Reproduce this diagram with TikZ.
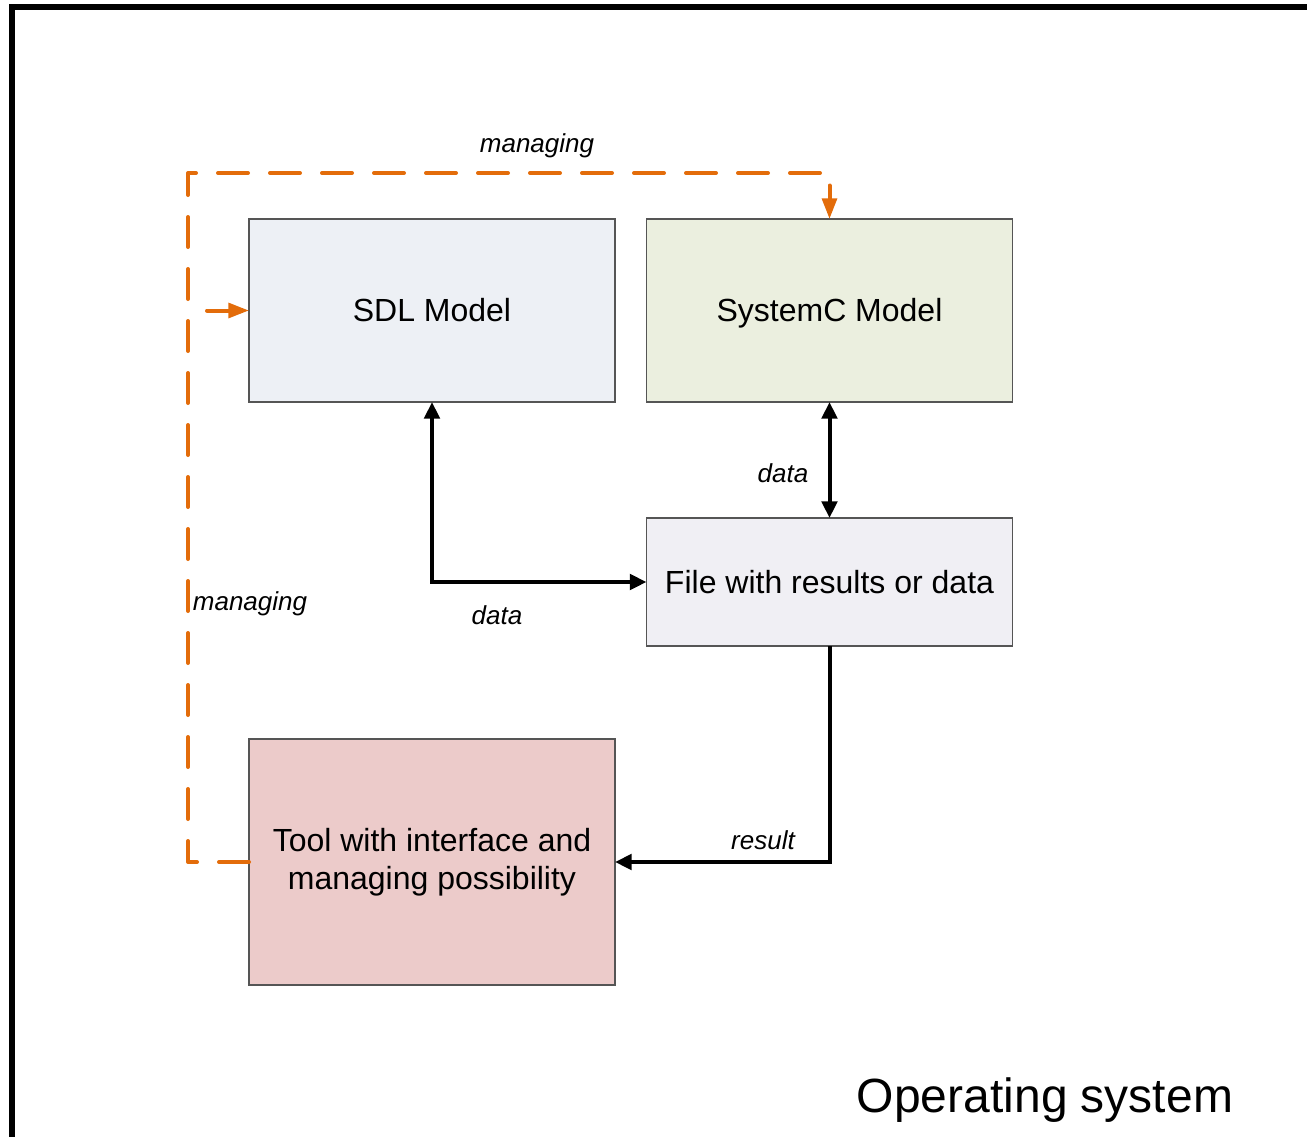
\documentclass[tikz,border=0pt]{standalone}
\usepackage{fontspec}
\setmainfont{Liberation Sans}
\usetikzlibrary{arrows.meta}
\definecolor{orng}{HTML}{E36C0A}
\definecolor{sdlfill}{HTML}{EDF0F5}
\definecolor{syscfill}{HTML}{EBEFDF}
\definecolor{filefill}{HTML}{F0EFF4}
\definecolor{toolfill}{HTML}{ECCBCA}
\definecolor{bordergray}{HTML}{555555}
\begin{document}
\begin{tikzpicture}[x=0.75pt,y=-0.75pt,
  box/.style={draw=bordergray, line width=0.8pt, inner sep=0pt, outer sep=0pt,
    font=\fontsize{24}{28.5}\selectfont, align=center},
  oneline/.style={text height=19.5pt, text depth=2.5pt},
  blk/.style={line width=3pt, draw=black, line join=miter,
    arrows={-Triangle[length=12.5pt,width=11.5pt]}},
  blk2/.style={line width=3pt, draw=black, line join=miter,
    arrows={Triangle[length=12.5pt,width=11.5pt]-Triangle[length=12.5pt,width=11.5pt]}},
  orngline/.style={line width=3pt, draw=orng, line cap=round, line join=round,
    dash pattern=on 22.5pt off 16.5pt},
  orngtip/.style={-{Triangle[length=15.5pt,width=11pt]}, orng, line width=3pt, line cap=round},
  lbl/.style={font=\fontsize{19.5}{22}\selectfont\itshape, inner sep=0pt}
]
\useasboundingbox (0,0) rectangle (1307,1136);
% frame
\draw[line width=4.5pt] (12,1150) -- (12,7) -- (1320,7);

% boxes
\node[box, oneline, fill=sdlfill, minimum width=274.5pt, minimum height=137.25pt] (sdl) at (432,310.5) {SDL Model};
\node[box, oneline, fill=syscfill, minimum width=274.5pt, minimum height=137.25pt] (sysc) at (829.5,310.5) {SystemC Model};
\node[box, oneline, fill=filefill, minimum width=274.5pt, minimum height=96pt] (file) at (829.5,582) {File with results or data};
\node[box, fill=toolfill, minimum width=274.5pt, minimum height=184.5pt] (tool) at (432,862) {Tool with interface and\\managing possibility};

% black connectors
\draw[blk2] (sdl.south) |- (file.west);
\draw[blk2] (sysc.south) -- (file.north);
\draw[blk] (file.south) |- (tool.east);

% orange managing lines
\coordinate (c1) at (188,173);
\coordinate (c2) at (207,310.5);
\draw[orngline] (tool.west) -| (c1) -| ([yshift=15pt]sysc.north);
\draw[orngtip] ([yshift=15pt]sysc.north) -- (sysc.north);
\draw[orngtip] (c2) -- (sdl.west);

% labels
\node[lbl] (l1) at (537,146) {managing};
\node[lbl] (l2) at (250,604) {managing};
\node[lbl] (l3) at (783,473) {data};
\node[lbl] (l4) at (497,615) {data};
\node[lbl] (l5) at (763,840) {result};
\node[font=\fontsize{36}{40}\selectfont, inner sep=0pt] (os) at (1045,1100) {Operating system};
\end{tikzpicture}
\end{document}
